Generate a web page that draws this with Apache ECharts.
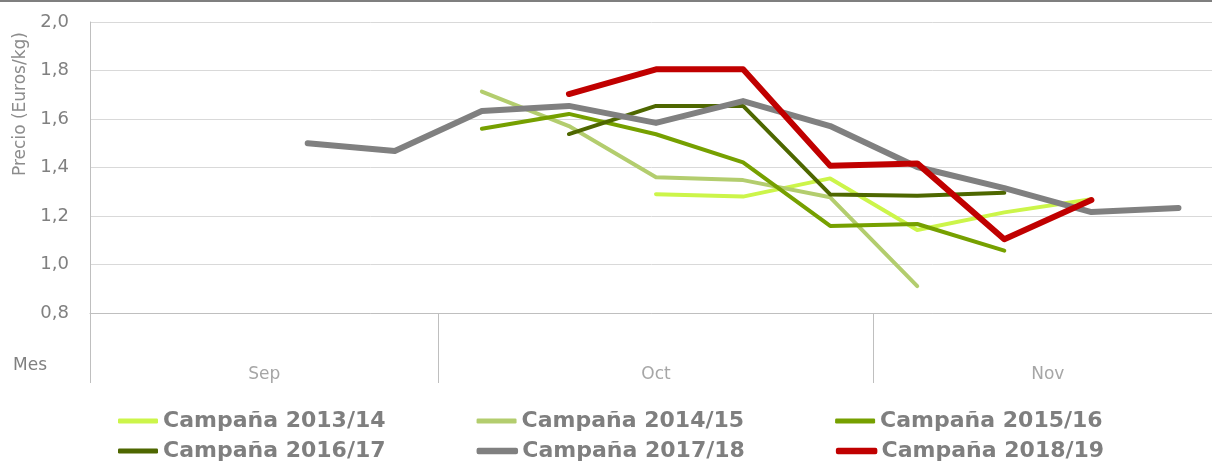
<!DOCTYPE html>
<html>
<head>
<meta charset="utf-8">
<script src="https://cdn.jsdelivr.net/npm/echarts@6/dist/echarts.min.js"></script>
<style>
  html, body { margin: 0; padding: 0; background: #fff; }
  #chart { width: 1212px; height: 461px; }
</style>
</head>
<body>
<div id="chart"></div>
<script>
// months and how many weekly points each one holds
const months = ['Sep', 'Oct', 'Nov'];
const weeksPerMonth = [4, 5, 4];
const yTicks = [0.8, 1.0, 1.2, 1.4, 1.6, 1.8, 2.0];

// weekly prices (Euros/kg), null = no data that week
const c1314 = [null, null, null, null, null, null, 1.29, 1.28, 1.355, 1.142, 1.215, 1.269, null];
const c1415 = [null, null, null, null, 1.713, 1.571, 1.36, 1.348, 1.277, 0.911, null, null, null];
const c1516 = [null, null, null, null, 1.56, 1.621, 1.537, 1.421, 1.159, 1.167, 1.057, null, null];
const c1617 = [null, null, null, null, null, 1.538, 1.654, 1.654, 1.289, 1.284, 1.296, null, null];
const c1718 = [null, null, 1.50, 1.468, 1.633, 1.654, 1.584, 1.674, 1.571, 1.402, 1.315, 1.216, 1.233];
const c1819 = [null, null, null, null, null, 1.703, 1.805, 1.805, 1.407, 1.417, 1.104, 1.266, null];

const seriesNames = ['Campaña 2013/14', 'Campaña 2014/15', 'Campaña 2015/16',
  'Campaña 2016/17', 'Campaña 2017/18', 'Campaña 2018/19'];
const seriesData = [c1314, c1415, c1516, c1617, c1718, c1819];
const colors = ['#ccf54a', '#b3cd6e', '#76a000', '#4e6700', '#808080', '#c00000'];
const widths = [4, 4, 4, 4, 6, 6];

// week categories, e.g. "Sep 1"
const weeks = [];
months.forEach((m, i) => {
  for (let k = 1; k <= weeksPerMonth[i]; k++) weeks.push(m + ' ' + k);
});

// month axis on half-week steps: labels at the middle of each month, ticks at edges
const halfSteps = weeks.length * 2 + 1;
const monthSlots = Array.from({ length: halfSteps }, (_, i) => String(i));
const monthLabelAt = {};
const monthEdges = [0];
let acc = 0;
months.forEach((m, i) => {
  monthLabelAt[acc * 2 + weeksPerMonth[i]] = m;
  acc += weeksPerMonth[i];
  monthEdges.push(acc * 2);
});

const font = 'DejaVu Sans';
const chart = echarts.init(document.getElementById('chart'));

const series = seriesNames.map((name, i) => ({
  name: name,
  type: 'line',
  xAxisIndex: 0,
  data: seriesData[i],
  symbol: 'none',
  color: colors[i],
  lineStyle: { width: widths[i], color: colors[i], cap: 'round', join: 'round' },
  emphasis: { disabled: true }
}));

// legend icons drawn as short rounded bars, thicker for the wide lines
const legendItems = seriesNames.map((name, i) => ({
  name: name,
  icon: 'roundRect',
  itemStyle: { color: colors[i], borderColor: colors[i], borderWidth: widths[i] > 4 ? 1.5 : 0 }
}));

const legendBase = {
  orient: 'horizontal',
  left: 118,
  padding: 0,
  itemWidth: 40,
  itemHeight: 5,
  itemGap: 91,
  textStyle: { color: '#7f7f7f', fontFamily: font, fontWeight: 'bold', fontSize: 22, lineHeight: 24 }
};

chart.setOption({
  animation: false,
  grid: { left: 90, top: 22, width: 1132, height: 291, outerBoundsMode: 'none', containLabel: false },
  legend: [
    Object.assign({ top: 409, data: legendItems.slice(0, 3) }, legendBase),
    Object.assign({ top: 439, data: legendItems.slice(3) }, legendBase)
  ],
  xAxis: [
    {
      type: 'category',
      data: weeks,
      boundaryGap: true,
      axisLine: { show: true, lineStyle: { color: '#bfbfbf', width: 1 } },
      axisTick: { show: false },
      axisLabel: { show: false },
      splitLine: { show: false }
    },
    {
      type: 'category',
      data: monthSlots,
      position: 'bottom',
      boundaryGap: false,
      axisLine: { show: false },
      axisTick: {
        show: true,
        length: 70,
        interval: (i) => monthEdges.indexOf(i) !== -1 && i < halfSteps - 1,
        lineStyle: { color: '#bfbfbf', width: 1 }
      },
      axisLabel: {
        interval: 0,
        margin: 53,
        formatter: (v, i) => monthLabelAt[i] || '',
        color: '#a6a6a6',
        fontFamily: font,
        fontSize: 17
      },
      splitLine: { show: false }
    }
  ],
  yAxis: {
    type: 'value',
    min: yTicks[0],
    max: yTicks[yTicks.length - 1],
    interval: 0.2,
    axisLine: { show: true, lineStyle: { color: '#bfbfbf', width: 1 } },
    axisTick: { show: false },
    axisLabel: {
      margin: 21,
      color: '#808080',
      fontFamily: font,
      fontSize: 18,
      formatter: (v) => v.toFixed(1).replace('.', ',')
    },
    splitLine: { show: true, lineStyle: { color: '#d9d9d9', width: 1 } }
  },
  graphic: [
    { type: 'rect', left: 0, top: 0, shape: { width: 1212, height: 2 }, style: { fill: '#7f7f7f' }, silent: true },
    {
      type: 'text', x: 21, y: 104, rotation: Math.PI / 2,
      style: { text: 'Precio (Euros/kg)', fill: '#8c8c8c', font: '17px "DejaVu Sans"', align: 'center', verticalAlign: 'middle' }
    },
    {
      type: 'text', x: 13, y: 366,
      style: { text: 'Mes', fill: '#808080', font: '17px "DejaVu Sans"', align: 'left', verticalAlign: 'middle' }
    }
  ],
  series: series
});
</script>
</body>
</html>
